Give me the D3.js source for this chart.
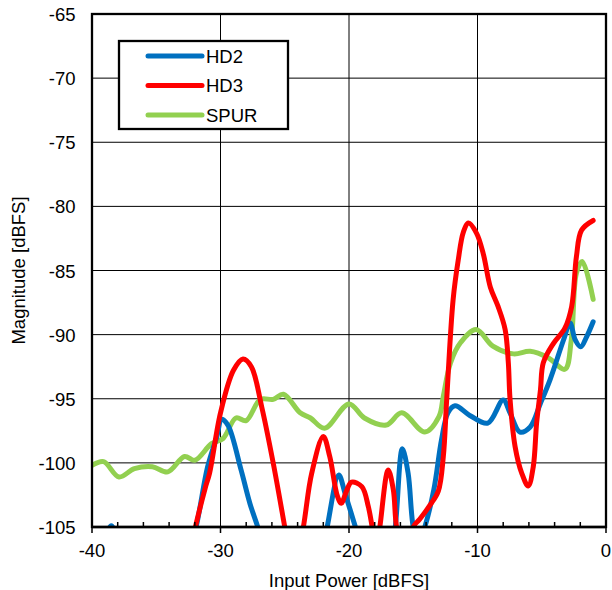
<!DOCTYPE html>
<html><head><meta charset="utf-8">
<script src="https://cdn.jsdelivr.net/npm/d3@7"></script>
<style>body{margin:0;background:#fff}svg{display:block}text{font-family:"Liberation Sans",Arial,sans-serif;fill:#000}</style>
</head><body>
<script>
const xTicks = [-40, -30, -20, -10, 0];
const yTicks = [-65, -70, -75, -80, -85, -90, -95, -100, -105];
const seriesNames = ["HD2", "HD3", "SPUR"];
const seriesColors = ["#0070C0", "#FF0000", "#92D050"];

const hd2 = [[-40,-110],[-39.1,-106.5],[-38.5,-104.9],[-37.9,-106.5],[-35.5,-112],[-33,-109],[-31.9,-105],[-31.0,-100.3],[-30.3,-98.0],[-29.9,-96.6],[-29.4,-97.1],[-28.4,-100.55],[-27.7,-103.2],[-27.1,-105],[-26.5,-107],[-24,-110],[-22.3,-108],[-21.7,-105],[-20.8,-100.95],[-20.3,-102.4],[-19.5,-105],[-18.5,-108],[-16.8,-107.5],[-16.4,-105],[-15.85,-98.9],[-15.4,-100.8],[-15.0,-105],[-14.6,-106.3],[-14.1,-105],[-13.4,-102.1],[-12.8,-98.2],[-12.3,-96.1],[-11.75,-95.55],[-10.6,-96.3],[-9.2,-96.9],[-8.0,-95.1],[-7.47,-96.1],[-6.7,-97.6],[-5.9,-97.2],[-5.1,-95.35],[-4.35,-93.5],[-3.3,-90.4],[-2.8,-89.1],[-2.4,-90.4],[-1.97,-90.95],[-1.5,-90.15],[-1.0,-89.0]];

const hd3 = [[-33,-110],[-32.3,-106.5],[-31.2,-102.0],[-30.85,-100.8],[-30.0,-96.1],[-29.0,-92.8],[-28.25,-91.9],[-27.6,-92.5],[-26.8,-95.6],[-25.9,-100.0],[-25.0,-105],[-24.3,-109],[-23.55,-105],[-22.9,-100.8],[-22.0,-97.95],[-21.5,-99.5],[-20.9,-102.6],[-20.6,-103.15],[-20.2,-102.2],[-19.8,-101.5],[-19.0,-101.85],[-18.5,-103.4],[-18.2,-105],[-17.9,-107],[-17.6,-105],[-16.95,-100.55],[-16.55,-102.1],[-16.3,-105],[-15.6,-108],[-15.0,-105],[-14.5,-104.4],[-13.7,-103.3],[-13.05,-102.2],[-12.66,-99.5],[-12.4,-95.1],[-11.9,-87.3],[-11.5,-84.2],[-11.1,-82.0],[-10.7,-81.3],[-10.07,-82.1],[-9.55,-83.7],[-9.0,-86.3],[-8.4,-87.8],[-7.85,-89.6],[-7.6,-92.2],[-7.47,-95.0],[-7.08,-98.7],[-6.56,-100.8],[-6.05,-101.8],[-5.66,-100.3],[-5.4,-96.9],[-5.1,-94.3],[-4.88,-92.2],[-4.1,-90.7],[-3.2,-89.5],[-2.67,-87.8],[-2.3,-83.9],[-1.9,-81.85],[-1.0,-81.1]];

const spur = [[-40,-100.2],[-39.1,-99.9],[-37.9,-101.1],[-36.7,-100.45],[-35.3,-100.3],[-34.1,-100.7],[-32.8,-99.5],[-32.0,-99.8],[-30.7,-98.5],[-29.8,-98.1],[-28.8,-96.5],[-28.0,-96.7],[-26.9,-95.05],[-25.9,-95.05],[-25.1,-94.65],[-23.8,-96.1],[-23.0,-96.5],[-21.9,-97.3],[-20.0,-95.4],[-18.8,-96.5],[-17.1,-97.05],[-15.9,-96.1],[-14.1,-97.6],[-13.0,-96.4],[-12.66,-94.8],[-12.1,-92.2],[-11.3,-90.6],[-10.1,-89.6],[-8.8,-90.9],[-7.2,-91.5],[-5.9,-91.3],[-4.5,-91.8],[-3.2,-92.7],[-2.7,-90.4],[-2.3,-85.2],[-1.85,-84.3],[-1.0,-87.25]];

const W = 612, H = 590;
const L = 92, R = 606, T = 14, B = 527;
const svg = d3.select("body").append("svg").attr("width", W).attr("height", H);
const x = d3.scaleLinear().domain([-40, 0]).range([L, R]);
const y = d3.scaleLinear().domain([-105, -65]).range([B, T]);

svg.append("defs").append("clipPath").attr("id", "clip")
  .append("rect").attr("x", L).attr("y", T).attr("width", R - L).attr("height", B - T);

// grid
const grid = svg.append("g");
grid.selectAll(".vg").data(xTicks.slice(1, -1)).join("line")
  .attr("x1", d => x(d)).attr("x2", d => x(d)).attr("y1", T).attr("y2", B)
  .attr("stroke", "#000").attr("stroke-width", 1);
grid.selectAll(".hg").data(yTicks.slice(1, -1)).join("line")
  .attr("x1", L).attr("x2", R).attr("y1", d => y(d)).attr("y2", d => y(d))
  .attr("stroke", "#000").attr("stroke-width", 1);

// series
const line = d3.line().x(d => x(d[0])).y(d => y(d[1])).curve(d3.curveCatmullRom.alpha(0.5));
const gS = svg.append("g").attr("clip-path", "url(#clip)");
[spur, hd2, hd3].forEach((s, i) => {
  const idx = [2, 0, 1][i];
  gS.append("path").attr("d", line(s)).attr("fill", "none")
    .attr("stroke", seriesColors[idx]).attr("stroke-width", 5)
    .attr("stroke-linejoin", "round").attr("stroke-linecap", "round");
});

// frame
svg.append("rect").attr("x", L).attr("y", T).attr("width", R - L).attr("height", B - T)
  .attr("fill", "none").attr("stroke", "#000").attr("stroke-width", 2.3);
svg.append("line").attr("x1", L).attr("x2", R).attr("y1", B).attr("y2", B)
  .attr("stroke", "#000").attr("stroke-width", 2.5);

// x ticks
const minor = d3.range(-38, 0, 2).filter(v => v % 10 !== 0);
svg.append("g").selectAll("line").data(minor).join("line")
  .attr("x1", d => x(d)).attr("x2", d => x(d)).attr("y1", B).attr("y2", B - 5)
  .attr("stroke", "#000").attr("stroke-width", 1.5);
svg.append("g").selectAll("line").data(xTicks).join("line")
  .attr("x1", d => x(d)).attr("x2", d => x(d)).attr("y1", B).attr("y2", B + 6)
  .attr("stroke", "#000").attr("stroke-width", 1.5);

svg.append("g").selectAll("text").data(xTicks).join("text")
  .attr("x", d => x(d)).attr("y", B + 29.5).attr("text-anchor", "middle")
  .style("font-size", "18.5px").text(d => d);
svg.append("g").selectAll("text").data(yTicks).join("text")
  .attr("x", 75.5).attr("y", d => y(d) + 7).attr("text-anchor", "end")
  .style("font-size", "18.5px").text(d => d);

svg.append("text").attr("x", (L + R) / 2).attr("y", 587).attr("text-anchor", "middle")
  .style("font-size", "18.5px").text("Input Power [dBFS]");
svg.append("text").attr("transform", `translate(24.5,${(T + B) / 2}) rotate(-90)`)
  .attr("text-anchor", "middle").style("font-size", "18.5px").text("Magnitude [dBFS]");

// legend
const lg = svg.append("g");
lg.append("rect").attr("x", 119).attr("y", 41).attr("width", 169).attr("height", 88)
  .attr("fill", "#fff").attr("stroke", "#000").attr("stroke-width", 2.3);
seriesNames.forEach((n, i) => {
  const yy = 56 + i * 29.5;
  lg.append("line").attr("x1", 148).attr("x2", 202).attr("y1", yy).attr("y2", yy)
    .attr("stroke", seriesColors[i]).attr("stroke-width", 5).attr("stroke-linecap", "round");
  lg.append("text").attr("x", 206).attr("y", yy + 6.5).style("font-size", "18.5px").text(n);
});
</script>
</body></html>
